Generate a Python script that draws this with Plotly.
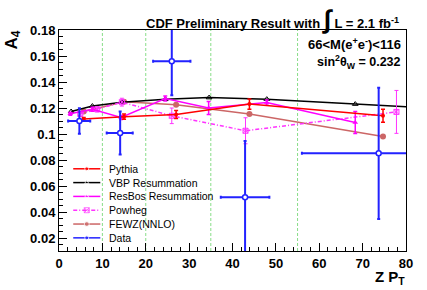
import plotly.graph_objects as go

# ---------------- data ----------------
bin_edges = [10, 20, 35, 55]

pythia_x = [5.7, 15.0, 27.0, 43.9, 74.7]
pythia_y = [0.1115, 0.1133, 0.1150, 0.1230, 0.1140]
pythia_err = [0.0012, 0.0020, 0.0030, 0.0040, 0.0050]

vbp_x = [2.8, 7.7, 14.5, 24.5, 34.6, 47.9, 68.3, 85.0]
vbp_y = [0.1173, 0.1215, 0.1245, 0.1268, 0.1280, 0.1268, 0.1230, 0.1200]

resbos_x = [2.6, 7.7, 14.3, 24.5, 34.5, 47.9, 68.3]
resbos_y = [0.1155, 0.1190, 0.1127, 0.1273, 0.1200, 0.1242, 0.1089]
resbos_err = [0.0010, 0.0015, 0.0015, 0.0020, 0.0050, 0.0020, 0.0085]

powheg_x = [4.9, 8.8, 14.5, 26.0, 43.0, 77.8]
powheg_y = [0.1155, 0.1190, 0.1245, 0.1140, 0.1025, 0.1170]
powheg_err = [0.0020, 0.0020, 0.0030, 0.0060, 0.0100, 0.0165]

fewz_x = [5.7, 15.0, 27.0, 43.9, 74.7]
fewz_y = [0.1173, 0.1248, 0.1225, 0.1153, 0.0980]

data_x = [4.7, 14.1, 26.0, 42.9, 73.7]
data_y = [0.1100, 0.1008, 0.1560, 0.0514, 0.0851]
data_ey = [0.0098, 0.0166, 0.0262, 0.0432, 0.0505]
data_exm = [2.6, 3.1, 4.3, 5.6, 17.7]
data_exp = [2.5, 2.9, 4.3, 5.6, 17.7]

x_ticks = [0, 10, 20, 30, 40, 50, 60, 70, 80]
y_ticks = [0.02, 0.04, 0.06, 0.08, 0.10, 0.12, 0.14, 0.16, 0.18]
y_tick_labels = ["0.02", "0.04", "0.06", "0.08", "0.1", "0.12", "0.14", "0.16", "0.18"]

RED = "#ff0000"
BLACK = "#000000"
MAG = "#ff00ff"
MAG2 = "#ff33ff"
FEWZC = "#cc6666"
BLUE = "#2222ff"
GREEN = "#88dd88"
POWHEG_DASH = "4px,2px,1px,2px"

FONT = "Liberation Sans, Arial, Helvetica, sans-serif"

fig = go.Figure()

# ---------------- series ----------------
fig.add_trace(go.Scatter(
    x=fewz_x, y=fewz_y, mode="lines+markers", name="FEWZ(NNLO)",
    line=dict(color=FEWZC, width=1.5),
    marker=dict(symbol="circle", size=6, color=FEWZC), showlegend=False))

fig.add_trace(go.Scatter(
    x=vbp_x, y=vbp_y, mode="lines+markers", name="VBP Resummation",
    line=dict(color=BLACK, width=1.5),
    marker=dict(symbol="triangle-up-open", size=5, color=BLACK, line=dict(width=1)),
    showlegend=False))

fig.add_trace(go.Scatter(
    x=powheg_x, y=powheg_y, mode="lines+markers", name="Powheg",
    line=dict(color=MAG2, width=1.5, dash=POWHEG_DASH),
    marker=dict(symbol="square-x-open", size=5, color=MAG2, line=dict(width=1)),
    error_y=dict(type="data", array=powheg_err, color=MAG2, thickness=1, width=2),
    showlegend=False))

fig.add_trace(go.Scatter(
    x=resbos_x, y=resbos_y, mode="lines+markers", name="ResBos Resummation",
    line=dict(color=MAG, width=1.5),
    marker=dict(symbol="triangle-up", size=5, color=MAG),
    error_y=dict(type="data", array=resbos_err, color=MAG, thickness=1.5, width=2),
    showlegend=False))

fig.add_trace(go.Scatter(
    x=pythia_x, y=pythia_y, mode="lines+markers", name="Pythia",
    line=dict(color=RED, width=1.5),
    marker=dict(symbol="circle", size=4, color=RED),
    error_y=dict(type="data", array=pythia_err, color=RED, thickness=1.5, width=2),
    showlegend=False))

fig.add_trace(go.Scatter(
    x=data_x, y=data_y, mode="markers", name="Data",
    marker=dict(symbol="circle", size=5, color="white", line=dict(color=BLUE, width=1.5)),
    error_y=dict(type="data", array=data_ey, color=BLUE, thickness=2, width=1.5),
    error_x=dict(type="data", array=data_exp, arrayminus=data_exm, symmetric=False,
                 color=BLUE, thickness=2, width=1.5),
    showlegend=False))

# ---------------- vertical bin-boundary lines ----------------
for e in bin_edges:
    fig.add_shape(type="line", xref="x", yref="paper", x0=e, x1=e, y0=0, y1=1,
                  line=dict(color=GREEN, width=1, dash="3px,2px"), layer="below")

# ---------------- legend (ROOT style, compact) ----------------
legend_items = [
    ("Pythia", dict(color=RED, width=1.5), dict(symbol="circle", size=4, color=RED)),
    ("VBP Resummation", dict(color=BLACK, width=1.5),
     dict(symbol="triangle-up", size=4, color=BLACK)),
    ("ResBos Resummation", dict(color=MAG, width=1.5),
     dict(symbol="triangle-up", size=4, color=MAG)),
    ("Powheg", dict(color=MAG2, width=1.5, dash=POWHEG_DASH),
     dict(symbol="square-x-open", size=5, color=MAG2, line=dict(width=1))),
    ("FEWZ(NNLO)", dict(color=FEWZC, width=1.5), dict(symbol="circle", size=5, color=FEWZC)),
    ("Data", dict(color=BLUE, width=1.5), dict(symbol="circle", size=4, color=BLUE)),
]
leg_x0, leg_x1, leg_text = 0.041, 0.119, 0.139
leg_top, leg_step = 0.372, 0.0625
for i, (name, ln, mk) in enumerate(legend_items):
    yy = leg_top - i * leg_step
    xm = (leg_x0 + leg_x1) / 2
    mk2 = dict(mk)
    mk2["size"] = [0, mk["size"], 0]
    fig.add_trace(go.Scatter(
        x=[leg_x0, xm, leg_x1], y=[yy, yy, yy], xaxis="x2", yaxis="y2",
        mode="lines+markers", line=ln, marker=mk2, showlegend=False, hoverinfo="skip"))
    fig.add_annotation(x=leg_text, y=yy, xref="x2", yref="y2", text=name,
                       showarrow=False, xanchor="left", yanchor="middle",
                       font=dict(family=FONT, size=10.5, color="black"))

# ---------------- texts ----------------
fig.add_annotation(
    x=0.9856, y=1.05, xref="paper", yref="paper", xanchor="right", yanchor="middle",
    text="<b>CDF Preliminary Result with <span style='font-size:26px'>∫</span>"
         " L = 2.1 fb<sup>-1</sup></b>",
    showarrow=False, font=dict(family=FONT, size=13, color="black"))
fig.add_annotation(
    x=0.991, y=0.937, xref="paper", yref="paper", xanchor="right", yanchor="middle",
    text="<b>66&lt;M(e<sup>+</sup>e<sup>-</sup>)&lt;116</b>",
    showarrow=False, font=dict(family=FONT, size=13, color="black"))
fig.add_annotation(
    x=0.991, y=0.855, xref="paper", yref="paper", xanchor="right", yanchor="middle",
    text="<b>sin<sup>2</sup>θ<sub>W</sub> = 0.232</b>",
    showarrow=False, font=dict(family=FONT, size=12.5, color="black"))
fig.add_annotation(
    x=-0.134, y=0.955, xref="paper", yref="paper", xanchor="center", yanchor="middle",
    text="<b>A<sub>4</sub></b>", textangle=-90,
    showarrow=False, font=dict(family=FONT, size=17, color="black"))
fig.add_annotation(
    x=1.002, y=-0.118, xref="paper", yref="paper", xanchor="right", yanchor="middle",
    text="<b>Z P<sub>T</sub></b>",
    showarrow=False, font=dict(family=FONT, size=15, color="black"))

# ---------------- layout ----------------
fig.update_layout(
    width=427, height=290,
    margin=dict(l=59, r=21, t=30, b=39),
    paper_bgcolor="white", plot_bgcolor="white",
    showlegend=False,
    xaxis=dict(
        range=[0, 80], tickvals=x_ticks, ticks="inside", ticklen=8, tickwidth=1,
        tickcolor="black", showline=True, linecolor="black", linewidth=1, mirror=True,
        showgrid=False, zeroline=False,
        tickfont=dict(family=FONT, size=13, color="black", weight="bold"),
        minor=dict(dtick=2, ticks="inside", ticklen=4, tickcolor="black", showgrid=False),
    ),
    yaxis=dict(
        range=[0.01, 0.18], tickvals=y_ticks, ticktext=y_tick_labels,
        ticks="inside", ticklen=8, tickwidth=1,
        tickcolor="black", showline=True, linecolor="black", linewidth=1, mirror=True,
        showgrid=False, zeroline=False,
        tickfont=dict(family=FONT, size=13, color="black", weight="bold"),
        minor=dict(dtick=0.005, tick0=0.0, ticks="inside", ticklen=4, tickcolor="black",
                   showgrid=False),
    ),
    xaxis2=dict(range=[0, 1], overlaying="x", anchor="y2", visible=False, fixedrange=True),
    yaxis2=dict(range=[0, 1], overlaying="y", anchor="x2", visible=False, fixedrange=True),
)

fig.write_html("out.html",
               config={"displayModeBar": False},
               post_script="document.body.style.margin='0';"
                           "document.body.style.overflow='hidden';")
